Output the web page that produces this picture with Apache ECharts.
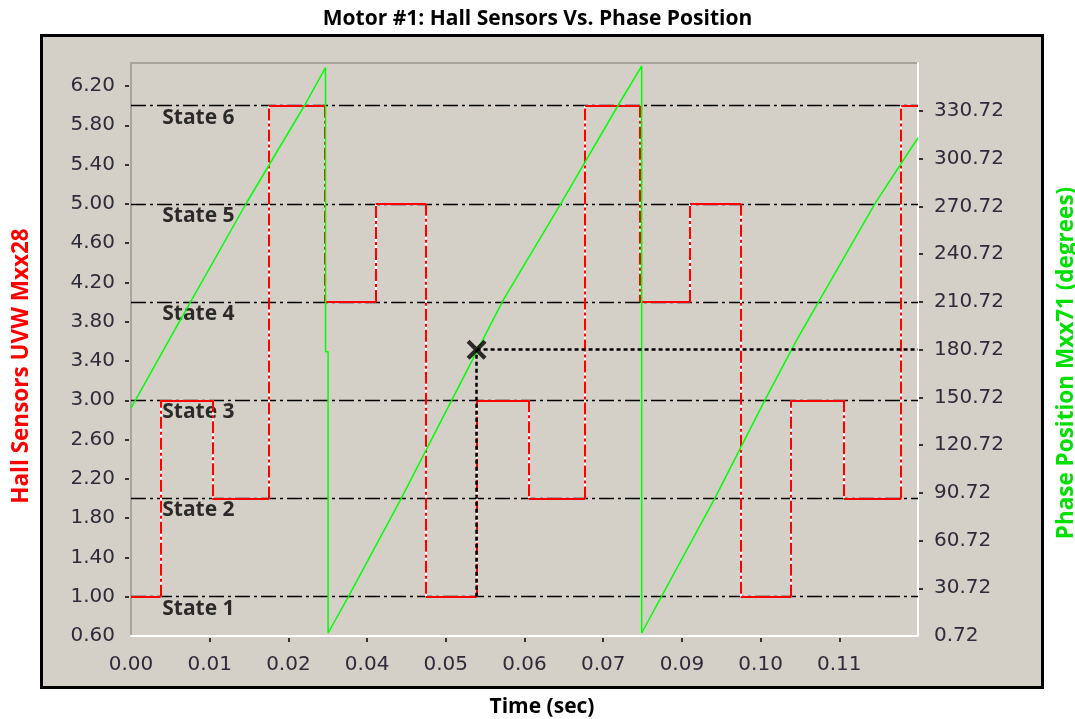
<!DOCTYPE html>
<html><head><meta charset="utf-8">
<script src="https://cdn.jsdelivr.net/npm/echarts@6/dist/echarts.min.js"></script>
<style>html,body{margin:0;padding:0;background:#fff}#c{width:1075px;height:719px}</style>
</head><body><div id="c"></div>
<script>
// ---- data ----
const hallStartTimes = [0, 0.00458, 0.01268, 0.02145, 0.03017, 0.03811, 0.04590, 0.05376, 0.06194, 0.07066, 0.07924, 0.08703, 0.09494, 0.10273, 0.11099, 0.11988];
const hallStates = [1, 3, 2, 6, 4, 5, 1, 3, 2, 6, 4, 5, 1, 3, 2, 6];
const timeEnd = 0.1225;
const phaseTimes = [0, 0.00681, 0.01797, 0.02705, 0.03028, 0.03028, 0.03068, 0.03068, 0.03380, 0.04211, 0.05793, 0.06677, 0.07585, 0.07949, 0.07949, 0.09091, 0.09869, 0.10363, 0.11582, 0.1225];
const phaseDegrees = [144.0, 193.1, 272.9, 334.5, 358.0, 179.4, 179.4, 2.6, 25.2, 87.5, 211.9, 271.6, 334.5, 359.0, 2.6, 87.5, 149.1, 186.8, 272.7, 313.9];
const stateLevels = [1, 2, 3, 4, 5, 6];
const stateNames = ['State 1', 'State 2', 'State 3', 'State 4', 'State 5', 'State 6'];
const xTickValues = [0, 0.01225, 0.0245, 0.03675, 0.049, 0.06125, 0.0735, 0.08575, 0.098, 0.11025];
const xTickLabels = ['0.00', '0.01', '0.02', '0.04', '0.05', '0.06', '0.07', '0.09', '0.10', '0.11'];
const leftTickValues = [0.6, 1.0, 1.4, 1.8, 2.2, 2.6, 3.0, 3.4, 3.8, 4.2, 4.6, 5.0, 5.4, 5.8, 6.2];
const leftTickLabels = ['0.60', '1.00', '1.40', '1.80', '2.20', '2.60', '3.00', '3.40', '3.80', '4.20', '4.60', '5.00', '5.40', '5.80', '6.20'];
const rightTickValues = [0.72, 30.72, 60.72, 90.72, 120.72, 150.72, 180.72, 210.72, 240.72, 270.72, 300.72, 330.72];
const rightTickLabels = ['0.72', '30.72', '60.72', '90.72', '120.72', '150.72', '180.72', '210.72', '240.72', '270.72', '300.72', '330.72'];
const cursorTime = 0.05379;
const cursorPhase = 180.72;
const cursorHall = 1;

// ---- build ----
function labelFor(vals, labs) {
  return function (v) {
    const i = vals.findIndex(x => Math.abs(x - v) < 1e-7);
    return i >= 0 ? labs[i] : '';
  };
}
const hallH = hallStates.map((s, i) => ({ coords: [[hallStartTimes[i], s], [i + 1 < hallStartTimes.length ? hallStartTimes[i + 1] : timeEnd, s]] }));
const hallV = hallStates.slice(1).map((s, i) => ({ coords: [[hallStartTimes[i + 1], hallStates[i]], [hallStartTimes[i + 1], s]] }));

const NUMF = 'DejaVu Sans';
const TF = 'Open Sans';
const labelBase = { fontFamily: NUMF, fontSize: 20, color: '#2e2b3a' };
const tickStyle = { color: '#3a2e2e', width: 2 };
const xPath = 'path://M3,0 L10,7 L17,0 L20,3 L13,10 L20,17 L17,20 L10,13 L3,20 L0,17 L7,10 L0,3 Z';

const chart = echarts.init(document.getElementById('c'), null, { renderer: 'canvas' });
const option = {
  animation: false,
  backgroundColor: '#ffffff',
  title: {
    text: 'Motor #1: Hall Sensors Vs. Phase Position', left: 'center', top: 4, padding: [5, 5, 5, 16],
    textStyle: { fontFamily: TF, fontWeight: 'bold', fontSize: 21, color: '#000' }
  },
  graphic: [{ type: 'rect', z: -100, shape: { x: 41.5, y: 35.5, width: 1001, height: 652 }, style: { fill: '#d4d0c8', stroke: '#000', lineWidth: 3 } }],
  grid: { left: 131, right: 157, top: 63, bottom: 83, show: true, containLabel: false, outerBoundsMode: 'none', backgroundColor: '#d4d0c8', borderColor: '#a8a49c', borderWidth: 2 },
  xAxis: [
    {
      type: 'value', position: 'bottom', min: 0, max: timeEnd, offset: 2,
      axisLine: { show: false, onZero: false }, splitLine: { show: false },
      axisTick: { show: true, length: 4, lineStyle: tickStyle, customValues: xTickValues.slice(1) },
      axisLabel: Object.assign({}, labelBase, { margin: 17, customValues: xTickValues, formatter: labelFor(xTickValues, xTickLabels) }),
      name: 'Time (sec)', nameLocation: 'middle', nameGap: 59,
      nameTextStyle: { fontFamily: TF, fontWeight: 'bold', fontSize: 21, color: '#000', padding: [0, 0, 0, 35] }
    },
    {
      type: 'value', position: 'bottom', min: 0, max: timeEnd, offset: 0,
      axisLine: { show: true, onZero: false, lineStyle: { color: '#ffffff', width: 2 } },
      axisTick: { show: false }, axisLabel: { show: false }, splitLine: { show: false }
    }
  ],
  yAxis: [
    {
      type: 'value', position: 'left', min: 0.6, max: 6.434, offset: 2,
      axisLine: { show: false, onZero: false }, splitLine: { show: false },
      axisTick: { show: true, length: 4, lineStyle: tickStyle, customValues: leftTickValues.slice(1) },
      axisLabel: Object.assign({}, labelBase, { margin: 14, customValues: leftTickValues, formatter: labelFor(leftTickValues, leftTickLabels) }),
      name: 'Hall Sensors UVW Mxx28', nameLocation: 'middle', nameGap: 96, nameRotate: 90,
      nameTextStyle: { fontFamily: TF, fontWeight: 'bold', fontSize: 22.5, color: '#ff0000', padding: [0, 33, 0, 0] }
    },
    {
      type: 'value', position: 'right', min: 0.72, max: 360.9, offset: 1,
      axisLine: { show: false, onZero: false }, splitLine: { show: false },
      axisTick: { show: true, length: 4, lineStyle: tickStyle, customValues: rightTickValues.slice(1) },
      axisLabel: Object.assign({}, labelBase, { margin: 15, customValues: rightTickValues, formatter: labelFor(rightTickValues, rightTickLabels) }),
      name: 'Phase Position Mxx71 (degrees)', nameLocation: 'middle', nameGap: 136, nameRotate: 90,
      nameTextStyle: { fontFamily: TF, fontWeight: 'bold', fontSize: 22.5, color: '#00e000', padding: [0, 27, 0, 0] }
    },
    {
      type: 'value', position: 'right', min: 0, max: 1, offset: 0,
      axisLine: { show: true, onZero: false, lineStyle: { color: '#ffffff', width: 2 } },
      axisTick: { show: false }, axisLabel: { show: false }, splitLine: { show: false }
    }
  ],
  series: [
    {
      type: 'lines', coordinateSystem: 'cartesian2d', xAxisIndex: 0, yAxisIndex: 0, z: 2, silent: true,
      data: stateLevels.map(s => ({ coords: [[0, s], [timeEnd, s]] })),
      lineStyle: { color: '#000', width: 1.3, type: [15, 4, 3, 4], opacity: 1 }
    },
    {
      type: 'scatter', xAxisIndex: 0, yAxisIndex: 0, z: 3, silent: true, symbolSize: 1,
      itemStyle: { color: 'rgba(0,0,0,0)' },
      data: stateLevels.map((s, i) => ({ value: [0.00478, s], label: { formatter: stateNames[i] } })),
      label: { show: true, position: 'right', distance: 0, offset: [0, 12], fontFamily: TF, fontWeight: 'bold', fontSize: 21, color: '#000' }
    },
    {
      type: 'lines', coordinateSystem: 'cartesian2d', xAxisIndex: 0, yAxisIndex: 0, z: 4, silent: true,
      data: hallV, lineStyle: { color: '#ffffff', width: 2, opacity: 1 }
    },
    {
      type: 'lines', coordinateSystem: 'cartesian2d', xAxisIndex: 0, yAxisIndex: 0, z: 5, silent: true,
      data: hallV, lineStyle: { color: '#ff0000', width: 2, type: [12, 3, 3, 3], opacity: 1 }
    },
    {
      type: 'lines', coordinateSystem: 'cartesian2d', xAxisIndex: 0, yAxisIndex: 0, z: 5, silent: true,
      data: hallH, lineStyle: { color: '#ff0000', width: 2, opacity: 1 }
    },
    {
      type: 'line', xAxisIndex: 0, yAxisIndex: 1, z: 6, silent: true, showSymbol: false, symbol: 'none',
      data: phaseTimes.map((t, i) => [t, phaseDegrees[i]]),
      lineStyle: { color: '#00ff00', width: 1.5 }
    },
    {
      type: 'lines', coordinateSystem: 'cartesian2d', xAxisIndex: 0, yAxisIndex: 1, z: 7, silent: true,
      data: [{ coords: [[cursorTime, cursorPhase], [timeEnd, cursorPhase]] }],
      lineStyle: { color: '#000', width: 2.5, type: [4, 3], opacity: 1 }
    },
    {
      id: 'cursorV', type: 'lines', coordinateSystem: 'cartesian2d', xAxisIndex: 0, yAxisIndex: 0, z: 7, silent: true,
      data: [], lineStyle: { color: '#000', width: 2.5, type: [4, 3], opacity: 1 }
    },
    {
      type: 'scatter', xAxisIndex: 0, yAxisIndex: 1, z: 8, silent: true,
      symbol: xPath, symbolSize: 20, itemStyle: { color: '#000' },
      data: [[cursorTime, cursorPhase]]
    }
  ]
};
chart.setOption(option);
const py = chart.convertToPixel({ yAxisIndex: 1 }, cursorPhase);
const hallAtCursor = chart.convertFromPixel({ yAxisIndex: 0 }, py);
chart.setOption({ series: [{ id: 'cursorV', data: [{ coords: [[cursorTime, cursorHall], [cursorTime, hallAtCursor]] }] }] });
</script></body></html>
